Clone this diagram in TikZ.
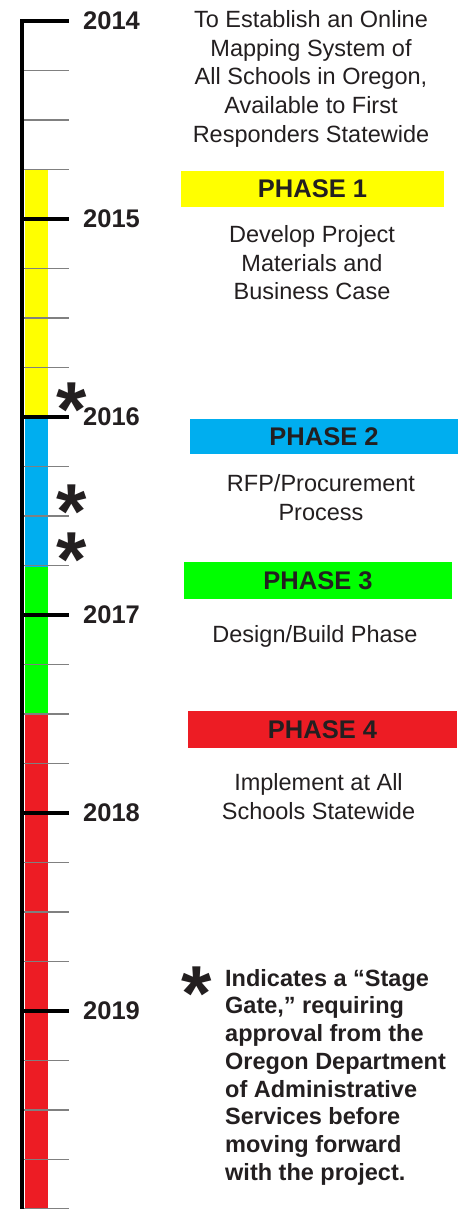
\documentclass[tikz,border=0pt]{standalone}
\usepackage{graphicx}
\usepackage{fontspec}
\setmainfont{Liberation Sans}
\definecolor{txt}{HTML}{231F20}
\definecolor{ph1}{HTML}{FFFF00}
\definecolor{ph2}{HTML}{00AEEF}
\definecolor{ph3}{HTML}{00FF00}
\definecolor{ph4}{HTML}{ED1C24}
\newcommand{\gatemark}{\scalebox{2}{\raisebox{-0.42em}[0.28em][0pt]{*}}}
\begin{document}
\begin{tikzpicture}[x=1pt,y=-1pt,text=txt,
    yearlbl/.style={anchor=west, inner sep=0pt, font=\fontsize{25.5}{25.5}\selectfont\bfseries},
    phasebox/.style={minimum width=268pt, minimum height=36pt, inner sep=0pt, font=\fontsize{25.5}{25.5}\selectfont\bfseries},
    desc/.style={anchor=north, align=center, inner sep=0pt, font=\fontsize{23.5}{28.8}\selectfont},
    gate/.style={anchor=center, inner sep=0pt, font=\fontsize{39}{39}\selectfont\bfseries},
    minortick/.style={draw=black!50, line width=1.6pt},
    yeartick/.style={draw=black, line width=4pt}]
    \useasboundingbox (0,0) rectangle (472,1209);
    % colour bar
    \fill[ph1] (25,169.5) rectangle (48,417);
    \fill[ph2] (25,417) rectangle (48,566.5);
    \fill[ph3] (25,566.5) rectangle (48,714);
    \fill[ph4] (25,714) rectangle (48,1209);
    \foreach \k in {1,...,24}
        \draw[minortick] (22,{21+49.5*\k}) -- (69,{21+49.5*\k});
    \draw[line width=4pt] (22,1209) -- (22,21) -- (69,21);
    \foreach \yr [count=\i from 0] in {2014,...,2019} {
        \draw[yeartick] (22,{21+198*\i}) -- (69,{21+198*\i});
        \node[yearlbl] (y\yr) at (83,{21+198*\i}) {\yr};
    }
    % stage gates
    \node[gate] (g1) at (71.5,393) {\gatemark};
    \node[gate] (g2) at (71.5,495) {\gatemark};
    \node[gate] (g3) at (71.5,543) {\gatemark};
    % phases
    \node[desc] (goal) at (311,10) {To Establish an Online\\Mapping System of\\All Schools in Oregon,\\Available to First\\Responders Statewide};
    \node[phasebox, fill=ph1, minimum width=263pt] (p1) at (312.5,189) {PHASE 1};
    \node[desc] (d1) at (312,225) {Develop Project\\Materials and\\Business Case};
    \node[phasebox, fill=ph2, minimum height=35pt] (p2) at (324,436.5) {PHASE 2};
    \node[desc] (d2) at (321,474) {RFP/Procurement\\Process};
    \node[phasebox, fill=ph3, minimum height=37pt] (p3) at (318,580.5) {PHASE 3};
    \node[desc] (d3) at (315,625) {Design/Build Phase};
    \node[phasebox, fill=ph4, minimum width=269pt, minimum height=37pt] (p4) at (322.5,729.5) {PHASE 4};
    \node[desc] (d4) at (318.5,773) {Implement at All\\Schools Statewide};
    % legend
    \node[gate] (gl) at (197,977) {\gatemark};
    \node[anchor=north west, align=left, inner sep=0pt, font=\fontsize{23.5}{27.7}\selectfont\bfseries] (lg) at (225,969)
        {Indicates a “Stage\\Gate,” requiring\\approval from the\\Oregon Department\\of Administrative\\Services before\\moving forward\\with the project.};
\end{tikzpicture}
\end{document}
